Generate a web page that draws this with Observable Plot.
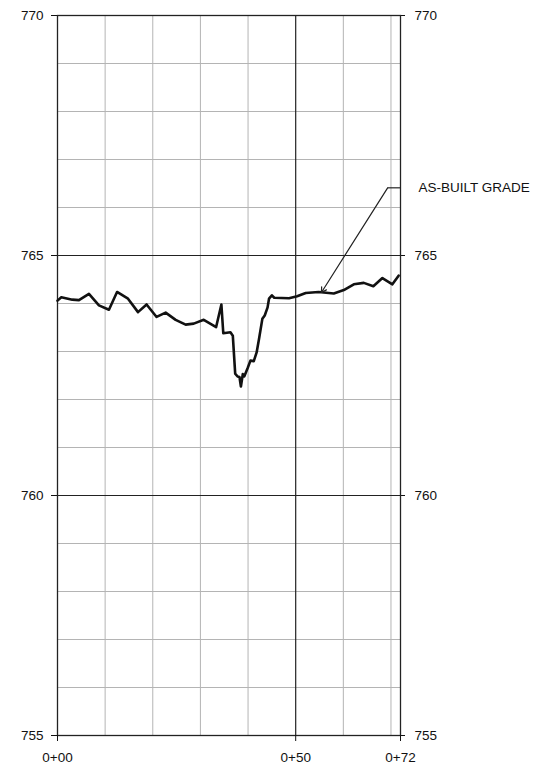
<!DOCTYPE html>
<html><head><meta charset="utf-8">
<script src="https://cdn.jsdelivr.net/npm/d3@7"></script>
<script src="https://cdn.jsdelivr.net/npm/@observablehq/plot@0.6"></script>
<style>body{margin:0;background:#fff;}</style>
</head><body><div id="chart"></div>
<script>
const stations = [0, 0.8, 3.1, 4.5, 6.6, 8.7, 10.8, 12.5, 14.8, 16.9, 18.7, 20.8, 22.7, 24.8, 26.9, 28.6, 30.7, 33.3, 34.4, 34.8, 36.3, 36.8, 37.3, 37.8, 38.2, 38.5, 38.9, 39.2, 39.9, 40.5, 41.2, 41.8, 42.3, 43.0, 43.5, 44.1, 44.4, 45.0, 45.5, 48.6, 50.3, 52.1, 54.8, 58.0, 60.1, 62.2, 64.3, 66.3, 68.2, 70.3, 71.6];
const elevations = [764.06, 764.13, 764.08, 764.07, 764.20, 763.96, 763.87, 764.24, 764.10, 763.82, 763.98, 763.72, 763.81, 763.66, 763.56, 763.58, 763.66, 763.51, 763.98, 763.38, 763.40, 763.33, 762.54, 762.48, 762.47, 762.27, 762.53, 762.48, 762.65, 762.81, 762.80, 762.98, 763.26, 763.68, 763.75, 763.92, 764.10, 764.17, 764.12, 764.11, 764.15, 764.22, 764.24, 764.21, 764.28, 764.40, 764.43, 764.36, 764.53, 764.40, 764.58];

const xTicks = [0, 50, 72];
const xTickLabels = ["0+00", "0+50", "0+72"];
const yTicks = [755, 760, 765, 770];
const minorX = [10, 20, 30, 40, 60, 70];
const majorX = [50];
const minorY = [756, 757, 758, 759, 761, 762, 763, 764, 766, 767, 768, 769];
const majorY = [760, 765];

const calloutLabel = "AS-BUILT GRADE";
const calloutTip = {x: 55.4, y: 764.23};
const calloutElbow = {x: 69.3, y: 766.41};
const calloutEnd = {x: 72, y: 766.41};

const data = stations.map((s, i) => ({station: s, elev: elevations[i]}));

const chart = Plot.plot({
  width: 540, height: 766,
  marginLeft: 57, marginRight: 140, marginTop: 15, marginBottom: 31,
  style: {fontFamily: "'Liberation Sans', Arial, sans-serif", fontSize: "13.5px", color: "#111", background: "#fff"},
  x: {domain: [0, 72]},
  y: {domain: [755, 770]},
  marks: [
    Plot.ruleX(minorX, {stroke: "#b4b4b4", strokeWidth: 1}),
    Plot.ruleY(minorY, {stroke: "#b4b4b4", strokeWidth: 1}),
    Plot.ruleX(majorX, {stroke: "#222", strokeWidth: 1.2}),
    Plot.ruleY(majorY, {stroke: "#222", strokeWidth: 1.2}),
    Plot.frame({stroke: "#222", strokeWidth: 1.3}),
    Plot.axisY({anchor: "left", ticks: yTicks, tickSize: 6, tickPadding: 8, label: null, fontSize: 13.5}),
    Plot.axisY({anchor: "right", ticks: yTicks, tickSize: 4, tickPadding: 10, label: null, fontSize: 13.5}),
    Plot.axisX({ticks: xTicks, tickFormat: d => xTickLabels[xTicks.indexOf(d)], tickSize: 6, tickPadding: 11, label: null, fontSize: 13.5}),
    Plot.line(data, {x: "station", y: "elev", stroke: "#111", strokeWidth: 2.6}),
    Plot.arrow([{a: calloutElbow, b: calloutTip}], {x1: d => d.a.x, y1: d => d.a.y, x2: d => d.b.x, y2: d => d.b.y, stroke: "#222", strokeWidth: 1.2, headLength: 7, bend: false}),
    Plot.link([{a: calloutElbow, b: calloutEnd}], {x1: d => d.a.x, y1: d => d.a.y, x2: d => d.b.x, y2: d => d.b.y, stroke: "#222", strokeWidth: 1.2}),
    Plot.text([calloutLabel], {x: calloutEnd.x, y: calloutEnd.y, text: d => d, dx: 18, textAnchor: "start", fontSize: 13.5, fill: "#111"})
  ]
});
document.getElementById("chart").appendChild(chart);
</script>
</body></html>
